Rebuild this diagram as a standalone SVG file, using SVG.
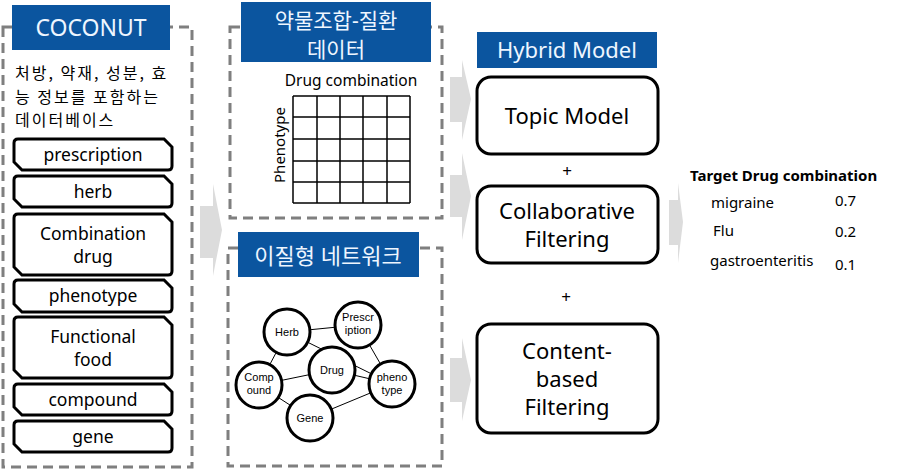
<svg xmlns="http://www.w3.org/2000/svg" width="915" height="470" viewBox="0 0 915 470">
<style>
.dash{fill:none;stroke:#7f7f7f;stroke-width:3;stroke-dasharray:10 6}
.title{fill:#0b559f}
.ttext{fill:#eef6ff;font-family:"Noto Sans","Noto Sans CJK KR",sans-serif;text-anchor:middle}
.item{fill:#fff;stroke:#000;stroke-width:3}
.itext{font-family:"Noto Sans","Noto Sans CJK KR",sans-serif;font-size:17.5px;text-anchor:middle;fill:#000}
.kr{font-family:"Noto Sans CJK KR",sans-serif;font-size:16px;letter-spacing:2px;fill:#000}
.grid{stroke:#000;stroke-width:1.5}
.node{fill:#fff;stroke:#000;stroke-width:3}
.ntext{font-family:"Liberation Sans",Arial,sans-serif;font-size:11px;text-anchor:middle;fill:#000}
.edge{stroke:#000;stroke-width:1}
.model{fill:#fff;stroke:#000;stroke-width:3}
.mtext{font-family:"Noto Sans",sans-serif;font-size:22px;text-anchor:middle;fill:#000}
.arrow{fill:#dcdcdc}
.res{font-family:"Noto Sans",sans-serif;font-size:15px;fill:#000}
</style>

<g id="coconut">
  <rect class="dash" x="3" y="27" width="189" height="440"/>
  <rect class="title" x="12" y="5" width="158" height="45"/>
  <text class="ttext" x="91" y="36" font-size="23">COCONUT</text>
  <text class="kr" x="15" y="79">처방, 약재, 성분, 효</text>
  <text class="kr" x="15" y="102.5">능 정보를 포함하는</text>
  <text class="kr" x="15" y="126">데이터베이스</text>
</g>

<g id="item-prescription">
  <path class="item" d="M18,139 H164 L172,147 V166 Q172,170 168,170 H22 L14,162 V143 Q14,139 18,139 Z"/>
  <text class="itext" x="93" y="161">prescription</text>
</g>
<g id="item-herb">
  <path class="item" d="M18,176 H164 L172,184 V203 Q172,207 168,207 H22 L14,199 V180 Q14,176 18,176 Z"/>
  <text class="itext" x="93" y="198">herb</text>
</g>
<g id="item-combination-drug">
  <path class="item" d="M18,214 H164 L172,222 V271 Q172,275 168,275 H22 L14,267 V218 Q14,214 18,214 Z"/>
  <text class="itext" x="93" y="240">Combination</text>
  <text class="itext" x="93" y="263">drug</text>
</g>
<g id="item-phenotype">
  <path class="item" d="M18,280 H164 L172,288 V308 Q172,312 168,312 H22 L14,304 V284 Q14,280 18,280 Z"/>
  <text class="itext" x="93" y="302">phenotype</text>
</g>
<g id="item-functional-food">
  <path class="item" d="M18,317 H164 L172,325 V374 Q172,378 168,378 H22 L14,370 V321 Q14,317 18,317 Z"/>
  <text class="itext" x="93" y="343">Functional</text>
  <text class="itext" x="93" y="366">food</text>
</g>
<g id="item-compound">
  <path class="item" d="M18,384 H164 L172,392 V411 Q172,415 168,415 H22 L14,407 V388 Q14,384 18,384 Z"/>
  <text class="itext" x="93" y="406">compound</text>
</g>
<g id="item-gene">
  <path class="item" d="M18,421 H164 L172,429 V448 Q172,452 168,452 H22 L14,444 V425 Q14,421 18,421 Z"/>
  <text class="itext" x="93" y="443">gene</text>
</g>

<g id="drug-disease-data">
  <rect class="dash" x="230" y="27" width="212" height="191"/>
  <rect class="title" x="241" y="2" width="190" height="60"/>
  <text class="ttext" x="336" y="28" font-size="21">약물조합-질환</text>
  <text class="ttext" x="336" y="57" font-size="21">데이터</text>
  <text x="351" y="86" font-family="Noto Sans,sans-serif" font-size="15.5" text-anchor="middle">Drug combination</text>
  <text x="0" y="0" font-family="Noto Sans,sans-serif" font-size="15" text-anchor="middle" transform="translate(285,145) rotate(-90)">Phenotype</text>
  <g class="grid">
    <line x1="293" y1="96" x2="293" y2="203"/>
    <line x1="317" y1="96" x2="317" y2="203"/>
    <line x1="340" y1="96" x2="340" y2="203"/>
    <line x1="363" y1="96" x2="363" y2="203"/>
    <line x1="387" y1="96" x2="387" y2="203"/>
    <line x1="410" y1="96" x2="410" y2="203"/>
    <line x1="293" y1="96" x2="410" y2="96"/>
    <line x1="293" y1="117" x2="410" y2="117"/>
    <line x1="293" y1="139" x2="410" y2="139"/>
    <line x1="293" y1="161" x2="410" y2="161"/>
    <line x1="293" y1="182" x2="410" y2="182"/>
    <line x1="293" y1="203" x2="410" y2="203"/>
  </g>
</g>

<g id="heterogeneous-network">
  <rect class="dash" x="228" y="248" width="214" height="218"/>
  <rect class="title" x="238" y="232" width="181" height="45"/>
  <text class="ttext" x="328" y="264" font-size="22">이질형 네트워크</text>
</g>

<g id="connectors">
  <line class="edge" x1="287" y1="332" x2="358" y2="325"/>
  <line class="edge" x1="287" y1="332" x2="392" y2="384"/>
  <line class="edge" x1="287" y1="332" x2="259" y2="385"/>
  <line class="edge" x1="358" y1="325" x2="392" y2="384"/>
  <line class="edge" x1="332" y1="370" x2="259" y2="385"/>
  <line class="edge" x1="332" y1="370" x2="392" y2="384"/>
  <line class="edge" x1="259" y1="385" x2="310" y2="418"/>
  <line class="edge" x1="310" y1="418" x2="392" y2="384"/>
  <path class="arrow" d="M200,206 H213 V184 L222,230 L213,276 V258 H200 Z"/>
  <path class="arrow" d="M450,77 H462 V60 L471,99 L462,140 V122 H450 Z"/>
  <path class="arrow" d="M450,175 H462 V153 L471,196 L462,240 V217 H450 Z"/>
  <path class="arrow" d="M450,358 H462 V338 L471,380 L462,421 V402 H450 Z"/>
  <path class="arrow" d="M669,200 H678 V183 L683,222 L678,263 V245 H669 Z"/>
</g>

<g id="node-herb">
  <circle class="node" cx="287" cy="332" r="23"/>
  <text class="ntext" x="287" y="336">Herb</text>
</g>
<g id="node-prescription">
  <circle class="node" cx="358" cy="325" r="23"/>
  <text class="ntext" x="358" y="321">Prescr</text>
  <text class="ntext" x="358" y="334">iption</text>
</g>
<g id="node-drug">
  <circle class="node" cx="332" cy="370" r="23"/>
  <text class="ntext" x="332" y="374">Drug</text>
</g>
<g id="node-compound">
  <circle class="node" cx="259" cy="385" r="23"/>
  <text class="ntext" x="259" y="381">Comp</text>
  <text class="ntext" x="259" y="394">ound</text>
</g>
<g id="node-phenotype">
  <circle class="node" cx="392" cy="384" r="23"/>
  <text class="ntext" x="392" y="381">pheno</text>
  <text class="ntext" x="392" y="394">type</text>
</g>
<g id="node-gene">
  <circle class="node" cx="310" cy="418" r="23"/>
  <text class="ntext" x="310" y="422">Gene</text>
</g>

<g id="hybrid-model">
  <rect class="title" x="477" y="32" width="180" height="36"/>
  <text class="ttext" x="567" y="58" font-size="22">Hybrid Model</text>
</g>
<g id="topic-model">
  <rect class="model" x="477" y="77" width="181" height="77" rx="14"/>
  <text class="mtext" x="567" y="124">Topic Model</text>
</g>
<text x="567" y="177" font-family="Noto Sans,sans-serif" font-size="17" text-anchor="middle">+</text>
<g id="collaborative-filtering">
  <rect class="model" x="477" y="186" width="181" height="77" rx="14"/>
  <text class="mtext" x="567" y="219">Collaborative</text>
  <text class="mtext" x="567" y="247">Filtering</text>
</g>
<text x="566" y="303" font-family="Noto Sans,sans-serif" font-size="17" text-anchor="middle">+</text>
<g id="content-based-filtering">
  <rect class="model" x="477" y="324" width="181" height="109" rx="14"/>
  <text class="mtext" x="567" y="359">Content-</text>
  <text class="mtext" x="567" y="387">based</text>
  <text class="mtext" x="567" y="415">Filtering</text>
</g>

<g id="target-drug-combination">
  <text class="res" x="690" y="181" font-weight="bold" font-size="16">Target Drug combination</text>
  <text class="res" x="711" y="208">migraine</text>
  <text class="res" x="835" y="206">0.7</text>
  <text class="res" x="713" y="236">Flu</text>
  <text class="res" x="835" y="237">0.2</text>
  <text class="res" x="710" y="266">gastroenteritis</text>
  <text class="res" x="835" y="270">0.1</text>
</g>
</svg>
